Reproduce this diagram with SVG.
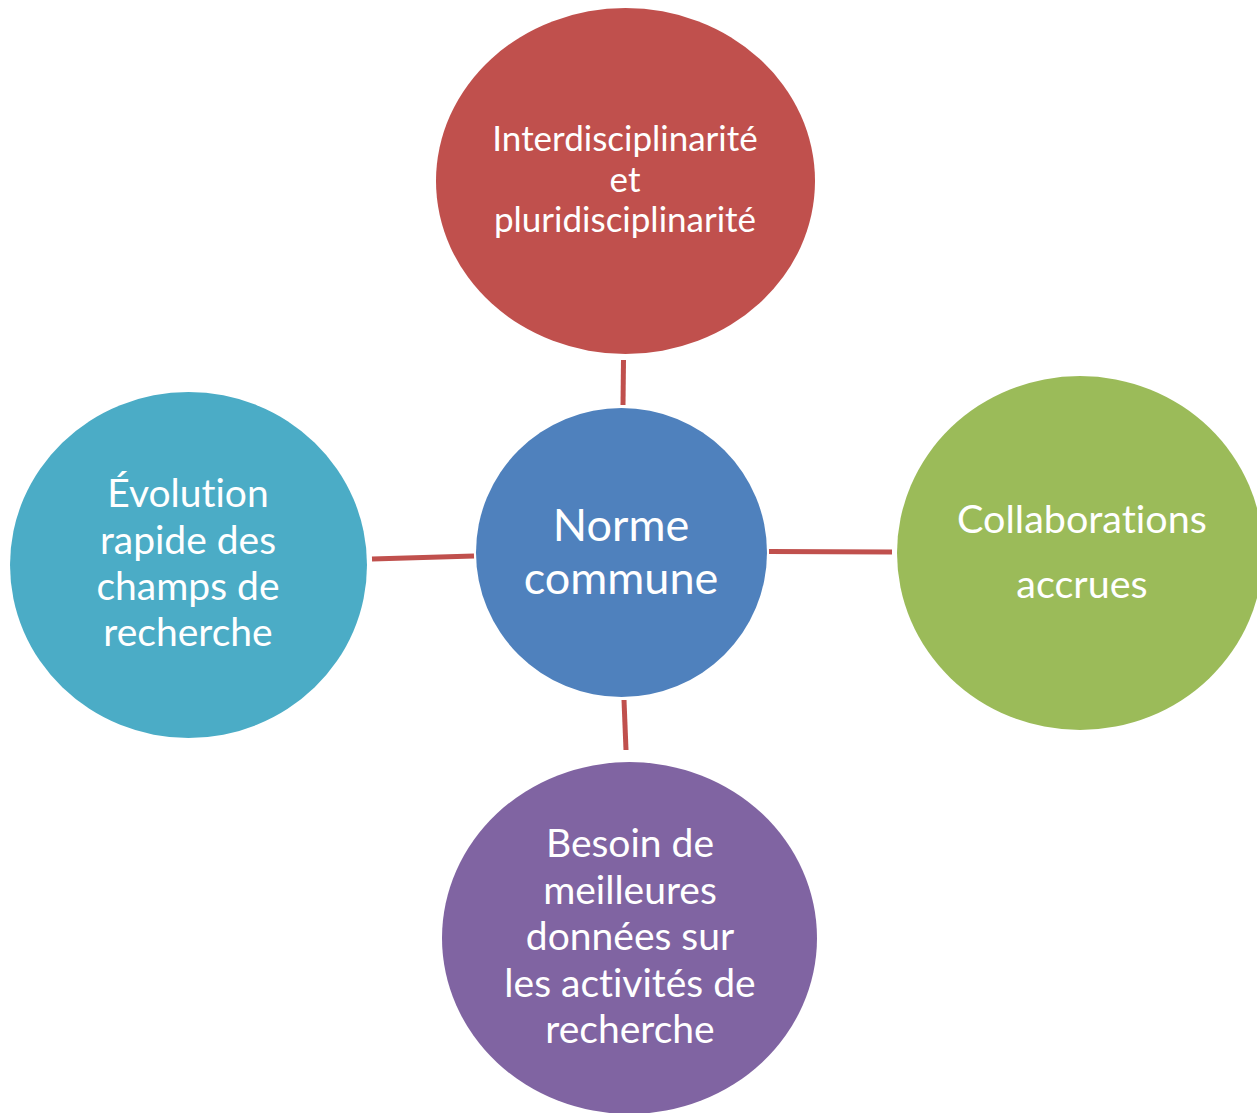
<svg xmlns="http://www.w3.org/2000/svg" width="1257" height="1113" viewBox="0 0 1257 1113">
<style>
.t{font-family:Lato,"Open Sans","Liberation Sans",sans-serif;fill:#ffffff;text-anchor:middle;font-variant-ligatures:none;font-feature-settings:"liga" 0,"dlig" 0}
.c{stroke:#c0504d;stroke-width:5;fill:none}
</style>
<rect width="1257" height="1113" fill="#ffffff"/>
<g id="connectors">
<line class="c" x1="623.5" y1="360" x2="623" y2="405"/>
<line class="c" x1="624" y1="700" x2="626" y2="750"/>
<line class="c" x1="372" y1="559" x2="474" y2="556"/>
<line class="c" x1="769" y1="551.5" x2="892" y2="552"/>
</g>
<g id="top">
<ellipse cx="625.5" cy="181" rx="189.5" ry="173" fill="#c0504d"/>
<text class="t" font-size="35" x="625" y="151">Interdisciplinarité</text>
<text class="t" font-size="35" x="625" y="192">et</text>
<text class="t" font-size="35" x="625" y="232">pluridisciplinarité</text>
</g>
<g id="center">
<ellipse cx="621.5" cy="552.5" rx="145.5" ry="144.5" fill="#4f81bd"/>
<text class="t" font-size="45" x="621" y="541">Norme</text>
<text class="t" font-size="45" x="621" y="594">commune</text>
</g>
<g id="right">
<ellipse cx="1080" cy="553" rx="183" ry="177" fill="#9bbb59"/>
<text class="t" font-size="39.5" x="1082" y="533">Collaborations</text>
<text class="t" font-size="39.5" x="1082" y="598">accrues</text>
</g>
<g id="left">
<ellipse cx="188.5" cy="565" rx="178.5" ry="173" fill="#4bacc6"/>
<text class="t" font-size="39" x="188" y="507">Évolution</text>
<text class="t" font-size="39" x="188" y="554">rapide des</text>
<text class="t" font-size="39" x="188" y="600">champs de</text>
<text class="t" font-size="39" x="188" y="646">recherche</text>
</g>
<g id="bottom">
<ellipse cx="629.5" cy="938" rx="187.5" ry="176" fill="#8064a2"/>
<text class="t" font-size="39" x="630" y="857">Besoin de</text>
<text class="t" font-size="39" x="630" y="904">meilleures</text>
<text class="t" font-size="39" x="630" y="950">données sur</text>
<text class="t" font-size="39" x="630" y="997">les activités de</text>
<text class="t" font-size="39" x="630" y="1043">recherche</text>
</g>
</svg>
